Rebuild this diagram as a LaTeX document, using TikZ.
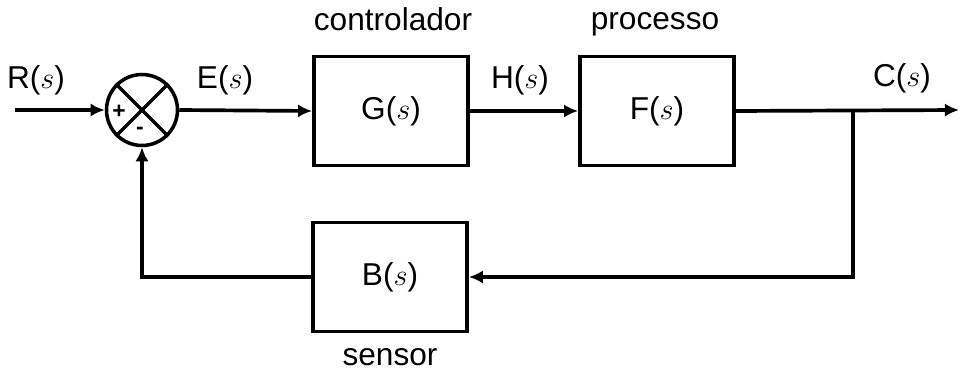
\documentclass[tikz,border=0pt]{standalone}
\usepackage{fontspec}
\setmainfont{Liberation Sans}
\usetikzlibrary{arrows.meta, positioning}

\begin{document}
\begin{tikzpicture}[x=0.02cm, y=-0.02cm,
    blk/.style={draw, line width=2.2pt, minimum width=3.08cm, minimum height=2.18cm, font=\fontsize{18}{20}\selectfont},
    lbl/.style={anchor=base, font=\fontsize{18}{20}\selectfont},
    sig/.style={line width=2.1pt, -{Latex[length=8pt,width=7.5pt]}}]
  \useasboundingbox (0,0) rectangle (959,371);
  % summing junction
  \node[draw, circle, line width=2pt, minimum size=1.42cm] (sum) at (142,110){};
  \draw[line width=2pt] (sum.north west) -- (sum.south east);
  \draw[line width=2pt] (sum.north east) -- (sum.south west);
  \node[font=\bfseries\fontsize{13}{13}\selectfont, inner sep=0pt] (plus) at (119,112){+};
  \node[font=\bfseries\fontsize{13}{13}\selectfont, inner sep=0pt] (minus) at (140,131){-};
  % blocks
  \node[blk] (G) at (391,111){G($s$)};
  \node[blk] (F) at (657,111){F($s$)};
  \node[blk] (B) at (390,277){B($s$)};
  % labels
  \node[lbl] (ctrl) at (393,31){controlador};
  \node[lbl] (proc) at (655,30){processo};
  \node[lbl] (sens) at (390,365){sensor};
  \node[lbl] (R) at (36,89){R($s$)};
  \node[lbl] (E) at (225,89){E($s$)};
  \node[lbl] (H) at (520,89){H($s$)};
  \node[lbl] (C) at (902,87){C($s$)};
  % connectors
  \coordinate (in) at (15,110);
  \coordinate (out) at (959,110);
  \coordinate (branch) at (853,110);
  \draw[sig] (in) -- (sum.west);
  \draw[sig] (sum.east) -- (G.west);
  \draw[sig] (G.east) -- (F.west);
  \draw[sig] (F.east) -- (out);
  \draw[sig] (branch) |- (B.east);
  \draw[sig] (B.west) -| (sum.south);
\end{tikzpicture}
\end{document}
